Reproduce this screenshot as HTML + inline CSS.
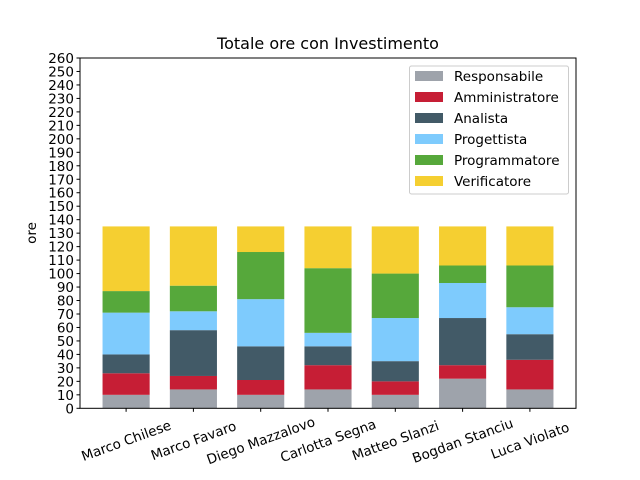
<!DOCTYPE html>
<html><head><meta charset="utf-8"><style>
body{margin:0;background:#fff}
svg{display:block;font-family:"DejaVu Sans","Liberation Sans",sans-serif}
</style></head><body>
<svg id="chart" width="640" height="480" xmlns="http://www.w3.org/2000/svg">
<rect width="640" height="480" fill="#fff"/>
<text x="328" y="49" font-size="16" text-anchor="middle">Totale ore con Investimento</text>
<text transform="translate(36,233) rotate(-90)" font-size="13.5" text-anchor="middle">ore</text>
<g id="bars"></g>
<g id="axes"></g>
<g id="legend"></g>
</svg>
<script>
const categories = ["Marco Chilese","Marco Favaro","Diego Mazzalovo","Carlotta Segna","Matteo Slanzi","Bogdan Stanciu","Luca Violato"];
const seriesNames = ["Responsabile","Amministratore","Analista","Progettista","Programmatore","Verificatore"];
const responsabile = [10,14,10,14,10,22,14];
const amministratore = [16,10,11,18,10,10,22];
const analista = [14,34,25,14,15,35,19];
const progettista = [31,14,35,10,32,26,20];
const programmatore = [16,19,35,48,33,13,31];
const verificatore = [48,44,19,31,35,29,29];
const yTicks = [0,10,20,30,40,50,60,70,80,90,100,110,120,130,140,150,160,170,180,190,200,210,220,230,240,250,260];

const series = [responsabile, amministratore, analista, progettista, programmatore, verificatore];
const colors = ["#9ea3ab","#c61e35","#425a67","#7ecbfd","#56a83b","#f5cf31"];
const NS = "http://www.w3.org/2000/svg";
const L = 80, R = 576, T = 58, B = 408.3;
const yMax = 260, xMin = -0.685, xMax = 6.685, barW = 0.7;
const y = v => B - v / yMax * (B - T);
const x = i => L + (i - xMin) / (xMax - xMin) * (R - L);
function mk(tag, attrs, parent){const e=document.createElementNS(NS,tag);for(const k in attrs)e.setAttribute(k,attrs[k]);parent.appendChild(e);return e;}

const gb = document.getElementById('bars');
categories.forEach((c, i) => {
  let cum = 0;
  series.forEach((s, k) => {
    const v = s[i];
    const r = mk('rect', {x: x(i - barW/2), y: y(cum + v), width: x(i + barW/2) - x(i - barW/2), height: y(cum) - y(cum + v), fill: colors[k]}, gb);
    
    
    cum += v;
  });
});

const ga = document.getElementById('axes');
const frame = mk('rect', {x: L, y: T, width: R - L, height: B - T, fill: 'none', stroke: '#000', 'stroke-width': 1}, ga);


yTicks.forEach(t => {
  mk('line', {x1: L - 3.5, x2: L, y1: y(t), y2: y(t), stroke: '#000'}, ga);
  const tx = mk('text', {x: L - 6, y: y(t) + 5, 'font-size': 13.5, 'text-anchor': 'end'}, ga);
  tx.textContent = t;
  
  
});
categories.forEach((c, i) => {
  mk('line', {x1: x(i), x2: x(i), y1: B, y2: B + 3.5, stroke: '#000'}, ga);
  const tx = mk('text', {transform: `translate(${x(i)},${B + 32}) rotate(-20)`, 'font-size': 13.5, 'text-anchor': 'middle', y: 5}, ga);
  tx.textContent = c;
  
  
});

const gl = document.getElementById('legend');
const box = mk('rect', {x: 409.5, y: 66, width: 159, height: 128, rx: 2, fill: '#fff', 'fill-opacity': 0.8, stroke: '#ccc'}, gl);


seriesNames.forEach((n, k) => {
  const cy = 76 + k * 21;
  const p = mk('rect', {x: 415, y: cy - 5, width: 28, height: 10, fill: colors[k]}, gl);
  
  
  const t = mk('text', {x: 454, y: cy + 5, 'font-size': 13.5}, gl);
  t.textContent = n;
  
  
});
</script>
</body></html>
